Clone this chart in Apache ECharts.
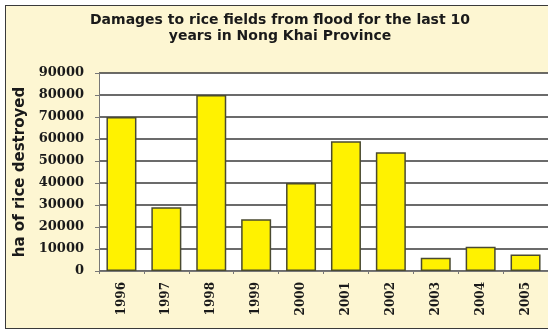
<!DOCTYPE html>
<html>
<head>
<meta charset="utf-8">
<script src="https://cdn.jsdelivr.net/npm/echarts@6/dist/echarts.min.js"></script>
<style>
    html, body { margin: 0; padding: 0; background: #ffffff; overflow: hidden; }
    .frame {
        position: absolute; left: 5px; top: 5px; width: 543px; height: 322px;
        background: #fdf6d2; border-left: 1.5px solid #3a3a3a;
        border-top: 1.5px solid #3a3a3a; border-bottom: 1.5px solid #3a3a3a;
    }
    #chart { position: absolute; left: 0; top: 0; width: 548px; height: 334px; }
</style>
</head>
<body>
<div class="frame"></div>
<div id="chart"></div>
<script>
const years = ['1996', '1997', '1998', '1999', '2000', '2001', '2002', '2003', '2004', '2005'];
const destroyed = [70000, 29000, 80000, 23500, 40000, 59000, 54000, 6000, 11000, 7500];
const yTicks = { min: 0, max: 90000, step: 10000 };

const chart = echarts.init(document.getElementById('chart'));

const option = {
    animation: false,
    title: {
        text: 'Damages to rice fields from flood for the last 10\nyears in Nong Khai Province',
        left: 275,
        top: 7,
        textAlign: 'center',
        textStyle: {
            fontFamily: 'DejaVu Sans',
            fontWeight: 'bold',
            fontSize: 14,
            lineHeight: 16,
            color: '#1a1a1a'
        }
    },
    grid: {
        left: 99,
        top: 73,
        width: 454,
        height: 198,
        show: true,
        backgroundColor: '#ffffff',
        borderWidth: 0
    },
    xAxis: {
        type: 'category',
        data: years,
        axisLine: { lineStyle: { color: '#777', width: 1 } },
        axisTick: { show: true, length: 3, lineStyle: { color: '#777' } },
        axisLabel: {
            rotate: 90,
            margin: 11,
            fontFamily: 'DejaVu Serif',
            fontWeight: 'bold',
            fontSize: 12,
            color: '#1a1a1a'
        }
    },
    yAxis: {
        type: 'value',
        min: yTicks.min,
        max: yTicks.max,
        interval: yTicks.step,
        name: 'ha of rice destroyed',
        nameLocation: 'middle',
        nameGap: 68,
        nameTextStyle: {
            fontFamily: 'DejaVu Sans',
            fontWeight: 'bold',
            fontSize: 15,
            color: '#1a1a1a'
        },
        axisLine: { show: true, lineStyle: { color: '#777', width: 1 } },
        axisTick: { show: true, length: 4, lineStyle: { color: '#777' } },
        axisLabel: {
            margin: 15,
            fontFamily: 'DejaVu Serif',
            fontWeight: 'bold',
            fontSize: 13,
            color: '#1a1a1a',
            formatter: v => String(v)
        },
        splitLine: { lineStyle: { color: '#3a3a3a', width: 1.5 } }
    },
    series: [{
        type: 'bar',
        data: destroyed,
        barWidth: 30,
        itemStyle: {
            color: '#fff200',
            borderColor: '#4a4a30',
            borderWidth: 1.5
        }
    }]
};

chart.setOption(option);
</script>
</body>
</html>
